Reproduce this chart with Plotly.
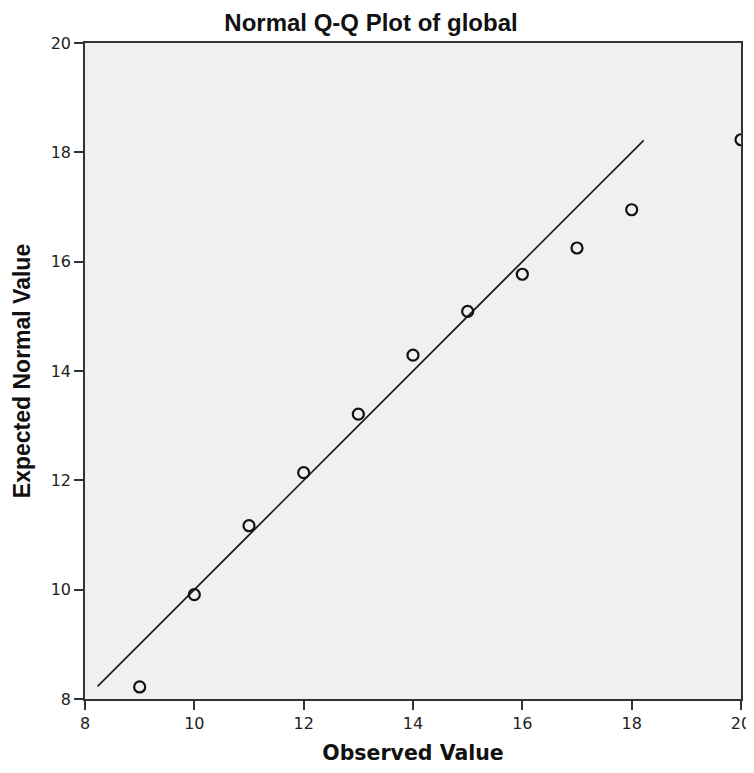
import plotly.graph_objects as go

observed = [9, 10, 11, 12, 13, 14, 15, 16, 17, 18, 20]
expected = [8.22, 9.91, 11.17, 12.14, 13.21, 14.29, 15.09, 15.77, 16.25, 16.95, 18.23]
line_x = [8.23, 18.22]
line_y = [8.23, 18.22]
x_ticks = [8, 10, 12, 14, 16, 18, 20]
y_ticks = [8, 10, 12, 14, 16, 18, 20]

fig = go.Figure()
fig.add_trace(go.Scatter(x=line_x, y=line_y, mode="lines",
                         line=dict(color="#1a1a1a", width=1.6), showlegend=False))
fig.add_trace(go.Scatter(x=observed, y=expected, mode="markers", cliponaxis=True,
                         marker=dict(symbol="circle-open", size=11, color="#111",
                                     line=dict(width=2.2, color="#111")),
                         showlegend=False))

fig.update_layout(
    width=754, height=757,
    margin=dict(l=77, r=21, t=35, b=66),
    paper_bgcolor="white", plot_bgcolor="#f0f0f0",
    font=dict(family="DejaVu Sans", color="#222"),
    title=dict(text="<b>Normal Q-Q Plot of global</b>", x=363 / 754, xanchor="center",
               yref="container", y=1 - 15 / 757, yanchor="middle",
               font=dict(family="Liberation Sans, Arial", size=24, color="#111")),
)
fig.update_xaxes(range=[8, 20], tickvals=x_ticks, ticks="outside", ticklen=9,
                 tickcolor="#333", tickwidth=1.5, showgrid=False, zeroline=False,
                 showline=True, linecolor="#333", linewidth=1.5, mirror=True,
                 automargin=False,
                 tickfont=dict(family="DejaVu Sans", size=16, color="#222"),
                 title=dict(text="<b>Observed Value</b>",
                            font=dict(family="DejaVu Sans", size=20.5, color="#111"),
                            standoff=24))
fig.update_yaxes(range=[8, 20], tickvals=y_ticks, ticks="outside", ticklen=9,
                 tickcolor="#333", tickwidth=1.5, showgrid=False, zeroline=False,
                 showline=True, linecolor="#333", linewidth=1.5, mirror=True,
                 automargin=False,
                 tickfont=dict(family="DejaVu Sans", size=16, color="#222"),
                 title=dict(text="<b>Expected Normal Value</b>",
                            font=dict(family="Liberation Sans, Arial", size=23, color="#111"),
                            standoff=14))

fig.write_html("out.html")
